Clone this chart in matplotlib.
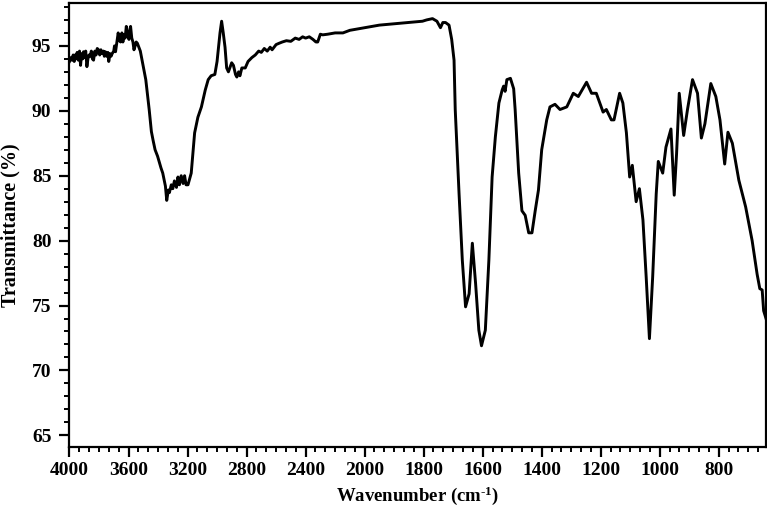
import numpy as np
import matplotlib
matplotlib.use("Agg")
import matplotlib.pyplot as plt
from matplotlib.ticker import FixedLocator, MultipleLocator

# ---- data ----
wavenumber = [
    4000, 3990, 3983, 3975, 3968, 3962, 3955, 3948, 3940, 3932, 3925, 3918, 3910, 3905,
    3897, 3890, 3882, 3875, 3868, 3860, 3852, 3845, 3837, 3828, 3820, 3812, 3803, 3795,
    3787, 3779, 3770, 3764, 3757, 3748, 3740, 3734, 3725, 3718, 3711, 3700, 3695, 3688,
    3680, 3670, 3662, 3654, 3645, 3638, 3631, 3623, 3615, 3606, 3597, 3590, 3586, 3578,
    3570, 3563, 3555, 3548, 3540, 3520, 3505, 3483, 3460, 3445,
    3433, 3420, 3403, 3380, 3368, 3350, 3341, 3330, 3323, 3310, 3300, 3289, 3275, 3265, 3255,
    3243, 3230, 3220, 3210, 3197, 3175, 3152, 3130, 3106, 3080, 3060, 3040, 3015, 3000,
    2992, 2980, 2969, 2958, 2946, 2935, 2923, 2901, 2889, 2875, 2866, 2854, 2845, 2832,
    2809, 2790, 2764, 2741, 2718, 2700, 2680, 2660, 2640, 2627, 2600, 2580, 2558, 2530,
    2500, 2470, 2444, 2420, 2400, 2375, 2350, 2330, 2318, 2300, 2284, 2250, 2200, 2147,
    2100, 2050, 2000, 1950, 1900, 1850, 1804, 1790, 1770, 1755, 1743, 1735, 1726, 1714,
    1705, 1697, 1693, 1680, 1669, 1658, 1646, 1635, 1624, 1613, 1604, 1591, 1579, 1568,
    1557, 1545, 1534, 1529, 1524, 1518, 1506, 1495, 1490, 1478, 1467, 1456, 1444, 1433,
    1422, 1411, 1400, 1383, 1372, 1355, 1338, 1315, 1293, 1276, 1248, 1231, 1215, 1192,
    1181, 1164, 1155, 1136, 1125, 1113, 1102, 1093, 1080, 1069, 1057, 1046, 1035, 1024,
    1012, 1005, 990, 979, 962, 951, 943, 934, 919, 906, 889, 872, 859, 847,
    827, 810, 796, 780, 769, 754, 732, 709, 687, 670, 661, 653, 648, 640,
]
transmittance = [
    93.8, 94.1, 93.9, 94.3, 93.8, 94.3, 94.0, 94.5, 93.9, 94.6, 93.5, 94.4, 94.0, 94.55,
    94.1, 94.6, 93.4, 94.0, 94.3, 94.2, 94.6, 94.0, 93.9, 94.6, 94.3, 94.8, 94.7, 94.3,
    94.7, 94.4, 94.6, 94.2, 94.55, 94.2, 94.5, 93.8, 94.4, 94.2, 94.4, 94.6, 95.0, 94.55,
    95.2, 96.0, 95.4, 95.3, 96.0, 95.3, 95.85, 95.6, 96.5, 95.8, 95.5, 96.3, 96.5, 95.6,
    95.3, 94.7, 95.0, 95.3, 95.2, 94.6, 93.7, 92.4, 90.1, 88.4,
    87.7, 87.0, 86.5, 85.6, 85.2, 84.2, 83.1, 83.9, 83.7, 84.3, 84.0, 84.6, 84.1, 84.9, 84.3,
    85.0, 84.4, 85.0, 84.3, 84.3, 85.2, 88.3, 89.5, 90.3, 91.6, 92.4, 92.7, 92.8, 93.8,
    94.7, 96.0, 96.9, 96.0, 94.9, 93.3, 93.0, 93.7, 93.5, 92.8, 92.6, 93.0, 92.7, 93.3,
    93.3, 93.8, 94.1, 94.3, 94.6, 94.5, 94.8, 94.6, 94.9, 94.7, 95.1, 95.2, 95.3, 95.4,
    95.35, 95.6, 95.5, 95.7, 95.6, 95.7, 95.5, 95.3, 95.3, 95.9, 95.85, 95.9, 96.0, 96.0,
    96.2, 96.3, 96.4, 96.6, 96.7, 96.8, 96.9, 97.0, 97.1, 96.9, 96.4, 96.8, 96.8, 96.6,
    95.5, 93.9, 90.1, 83.6, 78.5, 74.9, 75.9, 79.8, 76.7, 73.1, 71.9, 73.1, 78.5, 84.9,
    88.0, 90.6, 91.6, 91.9, 91.5, 92.4, 92.5, 91.7, 90.1, 85.2, 82.3, 81.95, 80.6, 80.6,
    82.3, 83.9, 87.0, 89.3, 90.3, 90.5, 90.1, 90.3, 91.35, 91.1, 92.2, 91.35, 91.35, 89.9,
    90.1, 89.3, 89.3, 91.35, 90.6, 88.3, 84.9, 85.8, 83.0, 84.0, 81.6, 77.2, 72.45, 77.2,
    83.6, 86.1, 85.2, 87.2, 88.6, 83.5, 86.7, 91.35, 88.1, 90.1, 92.4, 91.35, 87.9, 89.0,
    92.1, 91.1, 89.3, 85.9, 88.35, 87.5, 84.65, 82.6, 80.0, 77.4, 76.3, 76.2, 74.6, 74.0,
]
x_major = [4000, 3600, 3200, 2800, 2400, 2000, 1800, 1600, 1400, 1200, 1000, 800]
y_major = [65, 70, 75, 80, 85, 90, 95]


def fwd(x):
    x = np.asarray(x, dtype=float)
    return np.where(x > 2000, 2000 + (x - 2000) / 2.0, x)


def inv(f):
    f = np.asarray(f, dtype=float)
    return np.where(f > 2000, 2000 + (f - 2000) * 2.0, f)


plt.rcParams['font.family'] = ['Liberation Serif', 'DejaVu Serif']
plt.rcParams['font.weight'] = 'bold'
plt.rcParams['mathtext.fontset'] = 'custom'
plt.rcParams['mathtext.rm'] = 'Liberation Serif:bold'
plt.rcParams['mathtext.it'] = 'Liberation Serif:bold'
plt.rcParams['mathtext.bf'] = 'Liberation Serif:bold'

fig = plt.figure(figsize=(7.67, 5.08), dpi=100)
ax = fig.add_axes([0.0906, 0.120, 0.9081, 0.874])
ax.set_xscale('function', functions=(fwd, inv))
ax.plot(wavenumber, transmittance, color='black', lw=2.1, solid_joinstyle='round')
ax.set_xlim(4000, 640)
ax.set_ylim(64.1, 98.3)

ax.xaxis.set_major_locator(FixedLocator(x_major))
ax.set_xticklabels([str(v) for v in x_major])
minors = [2000 + k * 400 / 6 for k in range(1, 31) if k % 6 != 0]
minors += [2000 - k * 200 / 6 for k in range(1, 42) if k % 6 != 0]
ax.xaxis.set_minor_locator(FixedLocator([m for m in minors if 640 <= m <= 4000]))
ax.yaxis.set_major_locator(FixedLocator(y_major))
ax.yaxis.set_minor_locator(MultipleLocator(1))

for s in ax.spines.values():
    s.set_linewidth(1.6)
ax.tick_params(axis='both', which='major', direction='out', length=7, width=1.6,
               labelsize=14)
ax.tick_params(axis='x', which='major', pad=4)
ax.tick_params(axis='y', which='major', pad=6)
ax.tick_params(axis='both', which='minor', direction='out', length=3.5, width=1.4)
ax.tick_params(top=False, right=False, which='both')
for lab in ax.get_xticklabels() + ax.get_yticklabels():
    lab.set_fontweight('bold')

ax.set_xlabel('Wavenumber (cm$^{\\text{-}1}$)', fontsize=13.5, fontweight='bold', labelpad=4)
ax.set_ylabel('Transmittance (%)', fontsize=14.5, fontweight='bold', labelpad=8)

fig.savefig('out.png', dpi=100)
